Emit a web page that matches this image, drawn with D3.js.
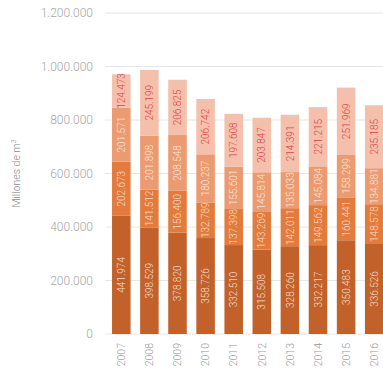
<!DOCTYPE html>
<html>
<head>
<meta charset="utf-8">
<script src="https://cdn.jsdelivr.net/npm/d3@7"></script>
<style>
  body { margin: 0; background: #fff; }
  #chart { width: 383px; height: 368px; }
  text { font-family: Roboto, "Liberation Sans", sans-serif; }
</style>
</head>
<body>
<div id="chart"></div>
<script>
const years = ["2007", "2008", "2009", "2010", "2011", "2012", "2013", "2014", "2015", "2016"];
const serieA = [441974, 398529, 378820, 358726, 332510, 315508, 328260, 332217, 350483, 336526];
const serieB = [202673, 141512, 156400, 132789, 137398, 143269, 142011, 149562, 160441, 148578];
const serieC = [201571, 201898, 208548, 180237, 155601, 145814, 135033, 145084, 158299, 134881];
const serieD = [124473, 245199, 206825, 206742, 197608, 203847, 214391, 221215, 251969, 235185];
const yTicks = [0, 200000, 400000, 600000, 800000, 1000000, 1200000];

const seriesKeys = ["a", "b", "c", "d"];
const fills = { a: "#c2622a", b: "#e27b3b", c: "#ec9a70", d: "#f5c0ab" };
const textColors = { a: "#f3dccb", b: "#f6dcc8", c: "#fbe6da", d: "#d9444a" };

const rows = years.map((y, i) => ({
  year: y, a: serieA[i], b: serieB[i], c: serieC[i], d: serieD[i]
}));

const locale = d3.formatLocale({ decimal: ",", thousands: ".", grouping: [3], currency: ["", "€"] });
const fmt = locale.format(",");

const width = 383, height = 368;
const svg = d3.select("#chart").append("svg")
  .attr("width", width).attr("height", height);

const y = d3.scaleLinear().domain([0, 1200000]).range([334, 13]);
const x = d3.scaleBand().domain(years).range([105, 390.5])
  .paddingInner(0.34).paddingOuter(0.25);

// grid
svg.append("g").selectAll("line").data(yTicks).join("line")
  .attr("x1", 105).attr("x2", width)
  .attr("y1", d => y(d)).attr("y2", d => y(d))
  .attr("stroke", "#e6e6e6").attr("stroke-width", 1);

// y labels
svg.append("g").selectAll("text").data(yTicks).join("text")
  .attr("x", 93).attr("y", d => y(d)).attr("dy", "0.35em")
  .attr("text-anchor", "end").attr("fill", "#a6a6a6")
  .style("font-size", "12px").style("font-weight", 300)
  .text(d => d === 0 ? "0" : fmt(d));

// y title
svg.append("text")
  .attr("transform", `translate(20,${y(600000)}) rotate(-90)`)
  .attr("text-anchor", "middle").attr("fill", "#8a8a8a")
  .style("font-size", "10.5px").style("font-weight", 300)
  .html('Millones de m<tspan dy="-4" font-size="7">3</tspan>');

const stacked = d3.stack().keys(seriesKeys)(rows);

const layers = svg.append("g").selectAll("g").data(stacked).join("g")
  .attr("fill", d => fills[d.key]);

layers.selectAll("rect").data(d => d).join("rect")
  .attr("x", d => x(d.data.year))
  .attr("width", x.bandwidth())
  .attr("y", d => y(d[1]))
  .attr("height", d => y(d[0]) - y(d[1]));

const labels = svg.append("g").selectAll("g").data(stacked).join("g");
labels.selectAll("text").data(d => d.map(v => ({ v, key: d.key }))).join("text")
  .attr("transform", d => {
    const cx = x(d.v.data.year) + x.bandwidth() / 2;
    const cy = (y(d.v[0]) + y(d.v[1])) / 2;
    return `translate(${cx},${cy}) rotate(-90)`;
  })
  .attr("text-anchor", "middle").attr("dy", "0.36em")
  .attr("fill", d => textColors[d.key])
  .style("font-size", "10px").style("font-weight", 300)
  .text(d => fmt(d.v.data[d.key]));

// x labels
svg.append("g").selectAll("text").data(years).join("text")
  .attr("transform", d => `translate(${x(d) + x.bandwidth() / 2},343) rotate(-90)`)
  .attr("text-anchor", "end").attr("dy", "0.36em")
  .attr("fill", "#999")
  .style("font-size", "10.5px").style("font-weight", 300)
  .text(d => d);
</script>
</body>
</html>
